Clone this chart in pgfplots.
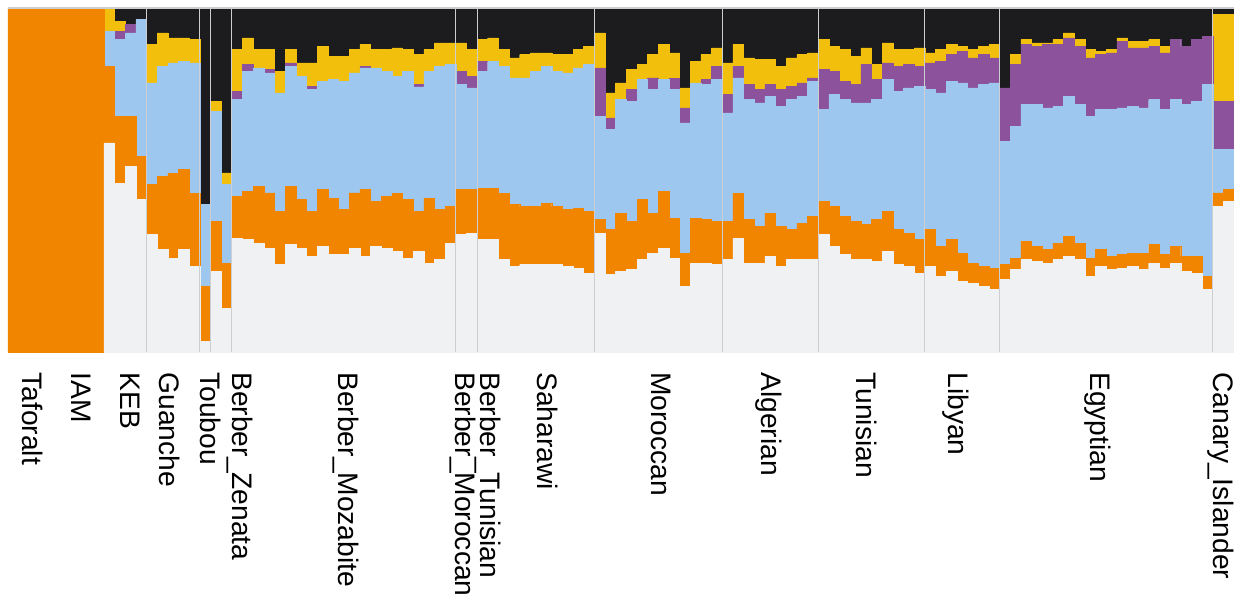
\documentclass[border=0pt]{standalone}
\usepackage{fontspec}
\setmainfont{Liberation Sans}
\usepackage{pgfplots}
\usepackage{pgfplotstable}
\pgfplotsset{compat=1.18}

\definecolor{cgray}{HTML}{F0F1F3}
\definecolor{corange}{HTML}{F28500}
\definecolor{cblue}{HTML}{9DC7EF}
\definecolor{cpurple}{HTML}{8C539C}
\definecolor{cyellow}{HTML}{F2C00C}
\definecolor{cblack}{HTML}{1C1C1E}
\definecolor{sepgray}{HTML}{CDCED1}

% ancestry components per individual, measured so that each row sums to 1032
\pgfplotstableread{
k gray orange blue purple yellow black
0 0 1032 0 0 0 0
1 0 1032 0 0 0 0
2 0 1032 0 0 0 0
3 0 1032 0 0 0 0
4 0 1032 0 0 0 0
5 0 1032 0 0 0 0
6 0 1032 0 0 0 0
7 0 1032 0 0 0 0
8 0 1032 0 0 0 0
9 627 230 105 0 70 0
10 507 200 230 25 30 40
11 557 150 250 25 0 50
12 457 130 410 0 0 35
13 352 150 305 0 115 110
14 307 220 330 0 100 75
15 282 255 330 0 75 90
16 307 240 325 0 70 90
17 257 220 390 0 70 95
18 32 165 245 0 0 590
19 242 150 330 0 30 280
20 132 135 235 0 35 495
21 342 125 290 25 125 125
22 337 145 360 20 80 90
23 327 170 355 0 55 125
24 312 165 360 10 60 125
25 262 160 355 0 65 190
26 322 175 360 10 40 125
27 312 145 370 0 40 165
28 287 135 365 10 70 165
29 317 170 325 0 105 115
30 292 170 355 0 70 145
31 292 135 385 0 75 145
32 312 165 360 0 70 125
33 287 200 365 5 65 110
34 317 135 400 0 55 125
35 312 155 375 0 65 125
36 302 175 350 0 85 120
37 282 175 385 0 65 125
38 302 120 373 7 90 140
39 267 195 380 0 65 125
40 277 150 430 0 70 105
41 327 110 425 0 65 105
42 352 135 315 40 85 105
43 357 130 305 35 80 125
44 337 155 350 30 65 95
45 337 155 380 0 70 90
46 277 200 380 0 50 125
47 257 185 380 0 60 150
48 262 175 385 0 70 140
49 262 175 405 0 55 135
50 262 185 410 0 40 135
51 262 175 405 0 50 140
52 257 170 410 0 55 140
53 252 180 420 0 55 125
54 237 185 440 0 55 115
55 357 40 310 145 105 75
56 232 135 300 35 75 255
57 242 175 340 0 50 225
58 247 145 360 35 60 185
59 277 180 360 0 45 170
60 297 120 370 35 70 140
61 312 170 335 0 105 110
62 282 120 385 35 75 135
63 197 100 390 45 60 240
64 267 135 405 0 65 160
65 267 130 405 15 75 140
66 262 130 425 40 55 120
67 277 115 325 55 95 165
68 342 135 345 35 65 110
69 267 130 360 45 80 150
70 267 110 370 40 90 155
71 287 130 350 35 75 155
72 257 120 360 50 70 175
73 277 90 390 40 85 150
74 277 110 380 40 85 140
75 277 130 405 10 75 135
76 352 100 275 120 90 95
77 317 120 335 70 75 115
78 292 115 350 55 95 125
79 277 115 355 55 85 145
80 277 105 365 115 50 120
81 272 125 360 60 45 170
82 302 120 395 50 60 105
83 262 105 415 75 50 125
84 257 100 435 70 45 125
85 237 100 460 60 55 120
86 257 110 420 80 30 135
87 227 90 460 95 35 125
88 242 95 475 80 30 110
89 212 85 510 95 15 115
90 207 60 525 90 25 125
91 197 60 545 90 25 115
92 187 65 555 75 40 110
93 217 45 370 160 0 240
94 247 35 395 185 30 140
95 277 55 410 180 15 95
96 272 45 425 175 10 105
97 267 40 425 190 5 105
98 277 50 410 185 15 95
99 287 60 420 175 15 75
100 277 50 415 175 20 95
101 227 55 425 175 25 125
102 257 50 420 165 10 130
103 247 40 440 170 10 125
104 252 40 440 200 10 90
105 257 40 440 175 20 100
106 247 50 435 180 20 100
107 267 55 435 160 20 95
108 252 40 435 170 20 115
109 267 50 440 180 0 95
110 242 45 455 175 0 115
111 237 50 465 185 0 95
112 187 40 575 145 0 85
113 437 40 130 145 260 20
114 452 35 120 145 260 20
}\anc

\begin{document}
\begin{tikzpicture}
\useasboundingbox (0,0) rectangle (617pt,300pt);
\begin{axis}[
    at={(4pt,296pt)}, anchor=north west,
    scale only axis,
    width=613pt, height=172pt,
    ybar stacked,
    bar width=1,
    xmin=-0.5, xmax=114.5,
    ymin=0, ymax=100,
    enlargelimits=false,
    axis on top,
    axis line style={draw=none},
    ytick=\empty,
    xtick={1.85,6.35,10.96,14.62,18.47,21.28,31.24,42.13,44.48,50.11,60.72,70.86,80.06,88.42,101.75,113.3},
    xticklabels={Taforalt,IAM,KEB,Guanche,Toubou,Berber\_Zenata,Berber\_Mozabite,Berber\_Moroccan,Berber\_Tunisian,Saharawi,Moroccan,Algerian,Tunisian,Libyan,Egyptian,Canary\_Islander},
    major tick length=0pt,
    xticklabel shift=10pt,
    xticklabel style={rotate=-90, anchor=west, inner sep=0pt, font=\fontsize{14.1}{17}\selectfont},
    extra x ticks={12.5,17.5,18.5,20.5,41.5,43.5,54.5,66.5,75.5,85.5,92.5,112.5},
    extra x tick labels={},
    extra x tick style={grid=major, grid style={draw=sepgray, line width=0.45pt}},
    extra y ticks={100},
    extra y tick labels={},
    extra y tick style={grid=major, grid style={draw=sepgray, line width=0.6pt}},
]
\addplot[fill=cgray, draw=cgray, line width=0.2pt] table[x=k, y expr=\thisrow{gray}/10.32] {\anc};
\addplot[fill=corange, draw=corange, line width=0.2pt] table[x=k, y expr=\thisrow{orange}/10.32] {\anc};
\addplot[fill=cblue, draw=cblue, line width=0.2pt] table[x=k, y expr=\thisrow{blue}/10.32] {\anc};
\addplot[fill=cpurple, draw=cpurple, line width=0.2pt] table[x=k, y expr=\thisrow{purple}/10.32] {\anc};
\addplot[fill=cyellow, draw=cyellow, line width=0.2pt] table[x=k, y expr=\thisrow{yellow}/10.32] {\anc};
\addplot[fill=cblack, draw=cblack, line width=0.2pt] table[x=k, y expr=\thisrow{black}/10.32] {\anc};
\end{axis}
\end{tikzpicture}
\end{document}
